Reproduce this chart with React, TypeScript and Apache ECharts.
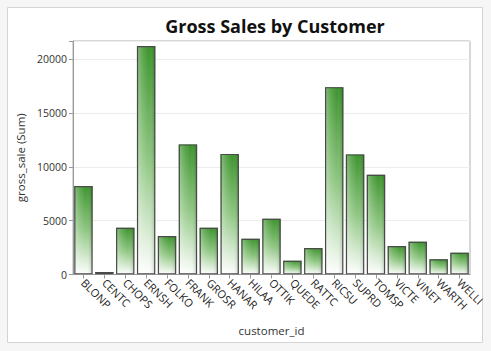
import React, { useEffect, useRef } from "react";
import * as echarts from "echarts";

const categories = ["BLONP", "CENTC", "CHOPS", "ERNSH", "FOLKO", "FRANK", "GROSR", "HANAR", "HILAA", "OTTIK", "QUEDE", "RATTC", "RICSU", "SUPRD", "TOMSP", "VICTE", "VINET", "WARTH", "WELLI"];
const grossSale = [8220, 230, 4345, 21240, 3575, 12090, 4345, 11210, 3320, 5180, 1280, 2460, 17410, 11160, 9270, 2650, 3050, 1410, 2025];
const yTicks = [0, 5000, 10000, 15000, 20000];

export default function App() {
  const ref = useRef<HTMLDivElement>(null);
  useEffect(() => {
    const chart = echarts.init(ref.current!, null, { renderer: "svg" });
    const font = "'Open Sans', 'DejaVu Sans', sans-serif";
    chart.setOption({
      animation: false,
      backgroundColor: "#f6f6f6",
      title: {
        text: "Gross Sales by Customer",
        left: 270,
        textAlign: "center",
        top: 12,
        textStyle: { fontFamily: font, fontSize: 18, fontWeight: "bold", color: "#111" },
      },
      graphic: [
        { type: "rect", z: -10, shape: { x: 7.5, y: 7.5, width: 475, height: 335 }, style: { fill: "#fff", stroke: "#d4d4d4", lineWidth: 1 }, silent: true },
      ],
      grid: { left: 73, right: 21, top: 41, bottom: 76.5, show: true, borderColor: "#b0b0b0", borderWidth: 1, backgroundColor: "transparent" },
      xAxis: {
        type: "category",
        data: categories,
        name: "customer_id",
        nameLocation: "middle",
        nameGap: 50,
        nameTextStyle: { fontFamily: font, fontSize: 11.5, color: "#333" },
        axisLine: { show: true, lineStyle: { color: "#999" } },
        axisTick: { show: true, alignWithLabel: true, lineStyle: { color: "#999" }, length: 4 },
        axisLabel: { rotate: -45, fontFamily: font, fontSize: 11, color: "#222", margin: 6, interval: 0 },
      },
      yAxis: {
        type: "value",
        min: 0,
        max: 21700,
        interval: 5000,
        name: "gross_sale (Sum)",
        nameLocation: "middle",
        nameGap: 47,
        nameTextStyle: { fontFamily: font, fontSize: 11.5, color: "#333" },
        axisLine: { show: true, lineStyle: { color: "#999" } },
        axisTick: { show: true, lineStyle: { color: "#999" }, length: 4 },
        axisLabel: {
          fontFamily: font, fontSize: 10.5, color: "#333", margin: 6,
          formatter: (v: number) => (yTicks.includes(v) ? String(v) : ""),
        },
        splitLine: { show: true, lineStyle: { color: "#ececec" } },
      },
      series: [
        {
          type: "bar",
          data: grossSale,
          barCategoryGap: "12%",
          itemStyle: {
            color: new echarts.graphic.LinearGradient(0, 0, 0, 1, [
              { offset: 0, color: "#3c942c" },
              { offset: 0.5, color: "#8fc682" },
              { offset: 1, color: "#ffffff" },
            ]),
            borderWidth: 0,
          },
        },
        {
          type: "bar",
          data: grossSale,
          barGap: "-100%",
          barCategoryGap: "12%",
          silent: true,
          itemStyle: {
            color: new echarts.graphic.LinearGradient(0, 0, 1, 0, [
              { offset: 0, color: "rgba(255,255,255,0.35)" },
              { offset: 0.3, color: "rgba(255,255,255,0.15)" },
              { offset: 0.65, color: "rgba(255,255,255,0)" },
              { offset: 1, color: "rgba(0,40,0,0.18)" },
            ]),
            borderColor: "#4a4a4a",
            borderWidth: 1.2,
          },
        },
      ],
    });
    return () => chart.dispose();
  }, []);
  return (
    <div style={{ position: "absolute", left: 0, top: 0, width: 491, height: 351, background: "#fff" }}>
      <div ref={ref} style={{ width: 491, height: 351 }} />
    </div>
  );
}
